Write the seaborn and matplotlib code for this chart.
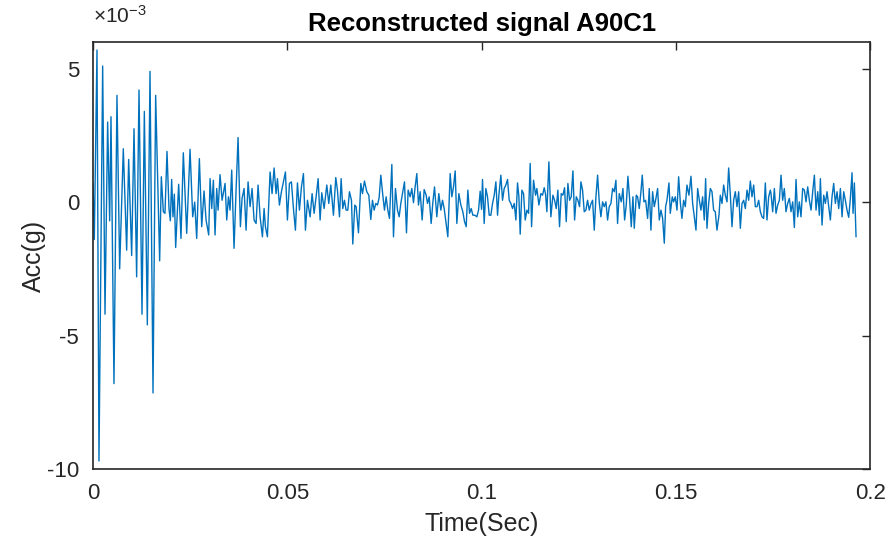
import numpy as np
import pandas as pd
import seaborn as sns
import matplotlib
matplotlib.use('Agg')
import matplotlib.pyplot as plt
from matplotlib.ticker import FuncFormatter

# time in ms, acceleration in 1e-3 g
burst_t = [0, 0.34, 1.03, 1.54, 2.49, 3.09, 3.77, 4.29, 4.63, 5.40, 6.17, 6.86, 7.80, 8.66,
           9.18, 9.95, 10.55, 11.23, 11.84, 12.61, 13.21, 13.98, 14.67, 15.44, 16.12, 17.15,
           17.58, 18.10, 18.52, 19.04, 19.55, 19.90, 20.24, 20.58, 20.93, 21.27, 22.04, 22.64, 23.24]
burst_acc = [0.7, -1.4, 5.7, -9.7, 5.1, -4.2, 3.0, -0.7, 3.2, -6.8, 4.0, -2.5, 2.0, -1.8,
             1.6, -2.0, 2.75, -2.8, 4.2, -4.2, 3.4, -4.6, 4.9, -7.15, 4.0, -2.2,
             0.95, -0.36, -0.42, 1.9, -0.24, -0.7, 0.85, -0.55, 0.3, -1.7, 0.67, -1.36, 1.85]

noise_t = [
    24.11, 24.97, 25.65, 26.17, 26.68, 27.37, 27.97, 28.57, 29.09, 29.77, 30.12, 30.55, 30.97, 31.40,
    31.83, 32.18, 32.69, 33.21, 33.98, 34.41, 34.84, 35.26, 35.69, 36.29, 36.81, 37.32, 37.92, 38.35,
    38.87, 39.38, 39.90, 40.41, 40.93, 41.44, 41.96, 42.47, 42.99, 43.59, 44.02, 44.36, 44.87, 45.56,
    46.07, 46.59, 47.10, 47.45, 47.96, 48.48, 48.99, 49.51, 50.02, 50.54, 51.05, 51.57, 52.08, 52.60,
    53.11, 53.63, 54.14, 54.66, 55.17, 55.86, 56.37, 56.89, 57.40, 57.92, 58.43,
    58.86, 59.46, 60.15, 60.66, 61.18, 61.86, 62.46, 62.89, 63.41, 63.84, 64.26, 64.69, 65.12, 65.55,
    65.98, 66.50, 66.84, 67.35, 67.70, 68.30, 68.90, 69.33, 69.84, 70.44, 70.96, 71.47, 71.90, 72.33,
    72.76, 73.19, 73.62, 74.05, 74.56, 74.99, 75.42, 75.85, 76.28, 76.88, 77.31, 77.82, 78.34, 78.77,
    79.19, 79.71, 80.14, 80.65, 81.08, 81.60, 82.02, 82.45, 82.88, 83.31, 83.74, 84.17, 84.68, 85.20,
    85.71, 86.06, 86.49, 87.00, 87.43, 87.86, 88.46, 88.97, 89.49, 89.92, 90.35, 90.86, 91.29, 91.89,
    92.32, 92.75, 93.18, 93.61, 94.12, 94.64, 95.15, 95.58, 96.01, 96.44, 96.87,
    97.30, 97.73, 98.24, 98.76, 99.19, 99.61, 99.96, 100.21, 100.64, 101.07, 101.50, 101.93, 102.36,
    102.79, 103.22, 103.65, 104.08, 104.42, 104.93, 105.36, 105.79, 106.22, 106.65, 107.08, 107.51,
    107.94, 108.37, 108.80, 109.22, 109.57, 109.91, 110.34, 110.77, 111.20, 111.63, 112.06, 112.48,
    112.83, 113.34, 113.86, 114.20, 114.72, 115.23, 115.66, 116.09, 116.43, 116.77, 117.29, 117.80,
    118.32, 118.75, 119.18, 119.60, 120.03, 120.46, 120.89, 121.32, 121.75, 122.18, 122.61, 123.04,
    123.47, 123.90, 124.33, 124.75, 125.18, 125.53, 125.95, 126.38, 126.81, 127.24, 127.67, 128.10,
    128.53, 128.96, 129.39, 129.82, 130.24, 130.67, 131.10, 131.53, 131.96, 132.39, 132.82, 133.25,
    133.68, 134.11, 134.53, 134.96, 135.39,
    135.91, 136.34, 136.77, 137.19, 137.62, 138.05, 138.48, 138.91, 139.25, 139.77, 140.11, 140.54,
    140.97, 141.31, 141.74, 142.17, 142.69, 143.11, 143.54, 143.97, 144.40, 144.83, 145.26, 145.69,
    146.12, 146.55, 146.98, 147.32, 147.66, 148.18, 148.52, 149.03, 149.38, 149.81, 150.24, 150.67,
    151.09, 151.52, 151.95, 152.38, 152.81, 153.32, 153.84, 154.27, 154.70, 155.13, 155.56, 155.99,
    156.41, 156.84, 157.27, 157.61, 157.96, 158.39, 158.82, 159.25, 159.67, 160.10, 160.53, 161.05,
    161.39, 161.82, 162.25, 162.68, 163.11, 163.54, 163.97, 164.40, 164.82, 165.25, 165.68, 166.11,
    166.54, 166.97, 167.40, 167.83, 168.26, 168.68, 169.11, 169.54, 169.97, 170.40, 170.83, 171.26,
    171.69, 172.12, 172.54, 172.97, 173.40, 173.83, 174.26,
    174.43, 174.86, 175.29, 175.72, 176.15, 176.58, 177.01, 177.43, 177.86, 178.29, 178.72, 179.15,
    179.58, 180.01, 180.44, 180.87, 181.30, 181.72, 182.15, 182.58, 183.01, 183.44, 183.87, 184.30,
    184.73, 185.16, 185.59, 186.02, 186.45, 186.87, 187.13, 187.56, 187.99, 188.42, 188.85, 189.28,
    189.70, 190.13, 190.56, 190.99, 191.42, 191.85, 192.28, 192.71, 193.14, 193.56, 193.99, 194.42,
    194.85, 195.28, 195.54, 195.88, 196.31]
noise_acc = [
    -1.17, 1.98, -0.55, 0.0, -1.36, 1.63, -0.92, 0.42, -0.67, -1.23, 0.88, -0.24, 0.82, -1.23,
    0.51, -0.30, 1.03, 0.07, 0.70, -0.67, 0.20, -0.30, 1.20, -1.73, 0.45, 2.42, -0.92, 0.14,
    0.51, -1.05, 0.76, -0.17, 0.51, -0.67, -0.80, 0.64, -0.55, -1.30, -0.24, -0.92, -1.30, 1.13,
    0.32, 1.28, 0.32, 0.88, -0.11, 0.39, 0.76, 1.13, -0.67, 0.70, 0.76, -0.24, -1.05, 0.72,
    -0.30, 0.57, 1.07, -1.05, 0.07, -0.55, 0.32, -0.42, 0.20, 0.88, -0.67,
    0.35, -0.24, 0.64, -0.05, 0.64, -0.49, 0.92, 0.45, -0.55, 0.88, -0.24, 0.07, -0.30, -0.30,
    0.39, 0.07, -1.57, -0.11, -0.17, -1.15, 0.70, 0.32, 0.79, 0.39, 0.26, -0.65, 0.07, -0.30,
    -0.05, -0.11, 0.17, 1.01, 0.26, -0.30, 0.20, -0.30, -0.61, 1.41, -1.30, 0.51, -0.30, -0.55,
    -0.05, 0.39, 0.76, -1.15, 0.45, 0.20, 0.51, -0.02, 0.57, 1.07, -0.11, 0.39, -0.67, 0.47,
    0.26, -0.05, 0.20, -0.80, -0.02, 0.57, -0.55, 0.32, -0.30, 0.07, -0.24, -0.80, -1.30, 1.07,
    0.20, 0.57, 1.17, -0.80, 0.32, -0.11, -0.36, -0.73, -0.92, 0.45, -0.42,
    -0.24, -0.49, -0.49, -0.55, -0.30, 0.41, -0.27, 0.85, -0.80, 0.51, 0.20, -0.49, -0.49,
    -0.05, 0.26, 0.76, -0.49, 0.26, 1.01, 0.07, 0.51, 0.64, 0.85, 0.07, -0.05,
    -0.24, -0.05, -0.67, 0.72, 0.20, -1.20, 0.45, 0.32, -0.67, -0.30, -0.42, 1.45,
    -0.92, 0.82, 0.26, 0.51, -0.11, 0.32, 0.26, 0.54, 0.30, -0.36, 1.51, -0.55,
    0.26, 0.07, -0.24, 0.45, -0.92, 0.32, 0.26, 0.54, -0.73, 0.70, 0.07, 0.20,
    1.17, -0.67, 0.20, 0.07, -0.17, 0.76, 0.45, -0.36, -0.30, 0.07, -0.30, -0.07,
    0.07, -1.05, 0.20, 1.01, 0.01, -0.55, 0.01, -0.17, 0.01, -0.67, -0.17, -0.05,
    0.51, 0.39, 0.82, -0.80, 0.32,
    0.01, 0.51, -0.67, -0.11, 0.97, 0.14, -0.92, 0.20, -0.98, 0.26, 0.20, -0.24,
    0.39, 1.01, 0.01, 0.07, -0.61, 0.51, -1.05, 0.39, -0.17, 0.14, 0.51, -0.67,
    -0.30, -0.61, -1.54, -0.17, 0.07, 0.72, -0.42, 0.20, 0.01, 0.20, -0.30, 0.95,
    0.01, -0.61, 0.07, -0.17, 0.64, 0.26, 0.97, -0.05, -0.55, -1.05, 0.51, 0.07,
    -0.30, 0.20, -0.67, 0.88, -0.98, -0.05, 0.51, 0.39, -0.30, -0.36, -1.05, -0.49,
    0.26, -0.05, 0.64, 0.26, 0.01, 1.28, 0.26, -0.92, 0.07, 0.39, -0.17, 0.39,
    -0.98, -0.05, 0.07, -0.24, 0.45, 0.07, 0.79, 0.20, 0.64, -0.17, -0.17, 0.07,
    -0.36, -0.55, -0.61, 0.72, -0.67, 0.20, 0.45,
    0.32, -0.36, 0.51, -0.42, -0.11, 0.07, 1.01, 0.07, 0.51, -0.36, -0.05, 0.14,
    -0.36, 0.01, -0.95, 0.85, -0.55, 0.01, -0.55, 0.51, 0.45, 0.01, 0.57, 0.07,
    -0.30, 0.39, 1.01, -0.30, 0.39, -0.49, 0.88, -0.86, 0.26, -0.05, 0.39, -0.17,
    -0.67, 0.20, 0.70, -0.05, 0.39, -0.24, 0.51, -0.55, 0.39, 0.07, -0.30, -0.57,
    0.14, 1.10, -0.42, 0.72, -1.30]

df = pd.DataFrame({
    'Time': np.array(burst_t + noise_t) / 1000.0,
    'Acc': np.array(burst_acc + noise_acc) * 1e-3,
})

sns.set_style('white')
plt.rcParams['font.family'] = ['Liberation Sans', 'DejaVu Sans']
plt.rcParams['axes.unicode_minus'] = False
plt.rcParams['mathtext.fontset'] = 'custom'
plt.rcParams['mathtext.rm'] = 'Liberation Sans'
plt.rcParams['mathtext.it'] = 'Liberation Sans'

fig = plt.figure(figsize=(8.95, 5.47), dpi=100)
ax = fig.add_axes([0.1039, 0.1426, 0.8686, 0.7806])

sns.lineplot(data=df, x='Time', y='Acc', ax=ax, color='#0072BD', linewidth=1.0,
             sort=False, estimator=None)

ax.set_xlim(0, 0.2)
ax.set_ylim(-10e-3, 6e-3)
ax.set_xticks([0, 0.05, 0.1, 0.15, 0.2])
ax.set_yticks([-10e-3, -5e-3, 0, 5e-3])
ax.xaxis.set_major_formatter(FuncFormatter(lambda v, p: '%g' % v))
ax.yaxis.set_major_formatter(FuncFormatter(lambda v, p: '%g' % round(v * 1e3, 6)))
ax.text(0.0, 1.045, r'$\times\mathregular{10^{-3}}$', transform=ax.transAxes,
        ha='left', va='baseline', fontsize=15, color='#262626')

ax.tick_params(direction='in', top=True, right=True, length=6, width=1,
               labelsize=16, colors='#262626', pad=10)
for s in ax.spines.values():
    s.set_color('#262626')
    s.set_linewidth(1.2)

ax.set_xlabel('Time(Sec)', fontsize=18, color='#262626', labelpad=6)
ax.set_ylabel('Acc(g)', fontsize=18, color='#262626', labelpad=1)
ax.set_title('Reconstructed signal A90C1', fontsize=18.5, fontweight='bold',
             color='black', pad=8)

fig.savefig('out.png', dpi=100)
